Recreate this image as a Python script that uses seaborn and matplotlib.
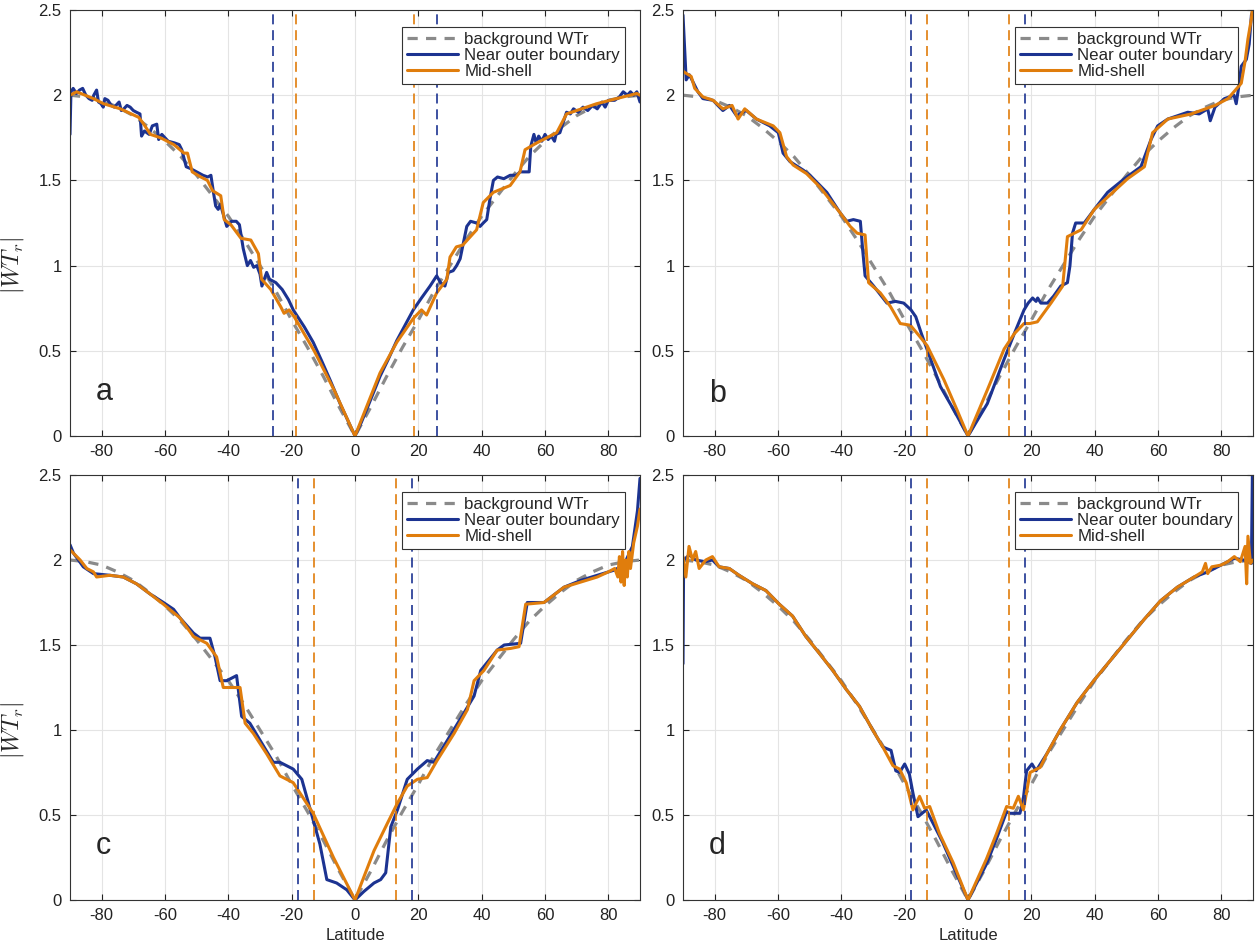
import matplotlib
matplotlib.use("Agg")
import matplotlib.pyplot as plt
import seaborn as sns

# --------------------------------------------------
# Data
# --------------------------------------------------
bg_lat = [-90, -85, -80, -75, -70, -65, -60, -55, -50, -45, -40, -35, -30, -25, -20, -15, -10, -5, 0,
          5, 10, 15, 20, 25, 30, 35, 40, 45, 50, 55, 60, 65, 70, 75, 80, 85, 90]
bg_val = [2.0, 1.99, 1.97, 1.93, 1.88, 1.81, 1.73, 1.64, 1.53, 1.41, 1.29, 1.15, 1.0, 0.85, 0.68, 0.52, 0.35, 0.17, 0.0,
          0.17, 0.35, 0.52, 0.68, 0.85, 1.0, 1.15, 1.29, 1.41, 1.53, 1.64, 1.73, 1.81, 1.88, 1.93, 1.97, 1.99, 2.0]

# panel a
a_blue_lat = [-90, -89.7, -89, -88, -87, -86, -85, -84, -83, -82.5, -81.6, -81, -80.2, -79.5, -79, -78, -77, -76,
              -75, -74.5, -73.8, -73, -72, -71, -70, -69, -67.9, -67.4,
              -66.5, -65, -64, -62.6, -62, -61, -59, -57, -55.5, -54.7, -53.3, -52, -50, -48, -46.5, -45.5,
              -44.7, -44, -43.2, -42.5, -40.5, -39, -37.5, -36.5, -35.3, -34, -33, -32, -31, -30, -29.4,
              -27.9, -27, -25, -23, -21, -19.5, -16, -13.2, -10.5, -7.9, -4.7, -2, 0,
              2, 4, 7.9, 10.5, 13.2, 15.8, 18.4, 21, 23.7, 25.8, 27, 28.4, 29.5, 31, 32.1, 33.2, 34.2,
              35.3, 36.5, 38.4, 39.5, 40.5, 41.6, 42.6, 43.7, 45, 47, 49, 51, 52.1, 53.7, 55, 55.5, 56.5,
              57.2, 58, 59, 60, 61, 62, 63, 63.5, 64.7, 66.8, 68, 69, 70.5, 72, 73.5, 75, 76.5, 78, 79,
              80, 82, 83.5, 84.7, 86, 87, 88, 89, 90]
a_blue_val = [1.77, 2.02, 2.04, 2.01, 2.03, 2.04, 2.0, 1.98, 1.97, 2.0, 2.03, 1.96, 1.95, 1.93, 1.98, 1.97, 1.94, 1.93,
              1.95, 1.96, 1.91, 1.92, 1.94, 1.93, 1.91, 1.90, 1.89, 1.76,
              1.79, 1.77, 1.82, 1.83, 1.74, 1.77, 1.73, 1.72, 1.71, 1.68, 1.58, 1.57, 1.55, 1.53, 1.52, 1.53,
              1.43, 1.35, 1.33, 1.36, 1.23, 1.26, 1.26, 1.24, 1.10, 1.00, 1.03, 0.99, 1.00, 0.95, 0.88,
              0.96, 0.92, 0.90, 0.86, 0.80, 0.74, 0.64, 0.55, 0.44, 0.33, 0.19, 0.08, 0.0,
              0.08, 0.17, 0.35, 0.45, 0.56, 0.65, 0.74, 0.81, 0.88, 0.94, 0.90, 0.88, 0.96, 0.97, 1.00, 1.04, 1.13,
              1.23, 1.26, 1.25, 1.23, 1.25, 1.27, 1.39, 1.50, 1.52, 1.51, 1.53, 1.53, 1.55, 1.55, 1.55, 1.70, 1.77,
              1.72, 1.76, 1.73, 1.77, 1.74, 1.76, 1.73, 1.77, 1.78, 1.90, 1.89, 1.92, 1.90, 1.93, 1.91, 1.94, 1.92,
              1.96, 1.93, 1.97, 1.97, 1.99, 2.02, 2.0, 2.02, 2.0, 2.02, 1.96]
a_orng_lat = [-90, -87.9, -82.6, -79.4, -74.1, -68.3, -66.7, -64.6, -61.4, -57.2, -54.0, -52.9, -51.4, -48.7,
              -46.6, -45, -42.4, -41.3, -39.2, -36.0, -32.9, -30.5, -29.5, -26.6, -23.5, -22.4, -20.8, -19.2,
              -12.9, -6.6, 0,
              7.9, 13.2, 18.4, 21, 22.6, 25.8, 29, 30, 32, 34, 38.4, 40.5, 43.7, 49, 52.1, 53.7, 57.4, 63.7,
              66.8, 76.3, 84.7, 89, 90]
a_orng_val = [2.0, 2.02, 1.98, 1.95, 1.92, 1.87, 1.83, 1.77, 1.75, 1.71, 1.66, 1.66, 1.55, 1.52,
              1.50, 1.44, 1.41, 1.27, 1.24, 1.16, 1.15, 1.07, 0.92, 0.86, 0.76, 0.72, 0.74, 0.70,
              0.50, 0.27, 0.0,
              0.37, 0.55, 0.69, 0.74, 0.71, 0.84, 0.92, 1.05, 1.11, 1.12, 1.21, 1.37, 1.43, 1.47, 1.55, 1.68, 1.72, 1.78,
              1.89, 1.95, 1.99, 2.01, 2.0]

# panel b
b_blue_lat = [-90, -89, -88, -86.9, -85.3, -83.7, -80.5, -79, -77.4, -75.3, -73.1, -70, -66.8, -62.6, -59.9,
              -58.4, -56.2, -52, -49.9, -44.6, -40.4, -38.3, -36.2, -34, -33.2, -32.5, -29.8, -25.6, -22.9,
              -20.3, -18, -16.5, -14.7, -8.7, -4.4, 0,
              6.1, 11.4, 14.6, 17.7, 19, 20.4, 21.5, 22, 23, 25.1, 27, 29.3, 31.4, 32.2, 33, 34, 36.7, 39.9,
              44.1, 49.4, 54.6, 57.8, 59.9, 63.1, 69.4, 73, 75.7, 76.5, 78, 81, 84, 84.7, 85.5, 86.3, 87.9,
              88.8, 89.5, 90]
b_blue_val = [2.47, 2.09, 2.12, 2.08, 2.02, 1.98, 1.97, 1.94, 1.91, 1.94, 1.88, 1.91, 1.86, 1.82, 1.78,
              1.66, 1.61, 1.56, 1.53, 1.43, 1.31, 1.26, 1.27, 1.26, 1.08, 0.94, 0.88, 0.78, 0.79,
              0.78, 0.74, 0.70, 0.60, 0.29, 0.15, 0.0,
              0.19, 0.45, 0.60, 0.74, 0.78, 0.81, 0.79, 0.81, 0.78, 0.78, 0.82, 0.88, 0.90, 1.0, 1.19, 1.25, 1.25, 1.33,
              1.43, 1.51, 1.58, 1.74, 1.82, 1.86, 1.90, 1.89, 1.92, 1.85, 1.93, 1.98, 2.0, 1.95, 2.05, 2.17, 2.21,
              2.3, 2.47, 2.5]
b_orng_lat = [-90, -87.4, -86.3, -83.7, -80.5, -77.4, -74.5, -72.6, -70.5, -66.8, -61.5, -59.4, -57.3, -55.2,
              -51, -46.7, -40.4, -37.2, -35, -32.5, -31.4, -27.7, -24.5, -21.4, -18.2, -15.5, -12.9, -7.6,
              -3.4, 0,
              6.1, 11.4, 14.6, 17.7, 19.5, 21.9, 26.2, 29.9, 31.4, 35.7, 39.9, 50.4, 55.7, 58.3, 63.1, 70.5,
              78, 82.1, 86.3, 87.5, 88.4, 89.5, 90]
b_orng_val = [2.14, 2.11, 2.04, 1.99, 1.97, 1.92, 1.94, 1.86, 1.92, 1.86, 1.82, 1.78, 1.64, 1.59,
              1.54, 1.46, 1.31, 1.23, 1.19, 1.18, 0.90, 0.84, 0.76, 0.66, 0.65, 0.59, 0.53, 0.33,
              0.15, 0.0,
              0.27, 0.51, 0.60, 0.66, 0.66, 0.67, 0.78, 0.88, 1.17, 1.21, 1.33, 1.51, 1.58, 1.78, 1.86, 1.89,
              1.94, 1.98, 2.07, 2.2, 2.33, 2.45, 2.55]

# panel c
c_blue_lat = [-90, -88.9, -85.8, -82.6, -77.4, -73.2, -69, -64.7, -60.5, -57.3, -55.3, -51, -48.9, -45.8,
              -44.2, -42.6, -40.5, -37.4, -35.8, -33.2, -30, -25.8, -23.7, -19.5, -16.8, -13.2, -11.1, -8.9,
              -5.8, -2.6, 0,
              2.8, 6, 8.1, 9.7, 11.3, 13.4, 16.5, 19.7, 22.8, 24.9, 29.2, 34.4, 37.6, 39.7, 44.9, 47.1, 52.3,
              54.4, 59.7, 66, 71.3, 76.5, 81.8, 84.9, 87.6, 89.2, 90]
c_blue_val = [2.09, 2.04, 1.96, 1.92, 1.91, 1.90, 1.86, 1.80, 1.75, 1.71, 1.66, 1.57, 1.54, 1.54,
              1.43, 1.29, 1.29, 1.32, 1.08, 1.04, 0.94, 0.81, 0.81, 0.77, 0.71, 0.47, 0.33, 0.12,
              0.10, 0.06, 0.0,
              0.05, 0.10, 0.12, 0.16, 0.43, 0.53, 0.71, 0.77, 0.82, 0.81, 0.94, 1.10, 1.20, 1.35, 1.47, 1.50, 1.51,
              1.75, 1.75, 1.84, 1.88, 1.91, 1.94, 1.97, 2.08, 2.29, 2.48]
c_orng_lat = [-90, -86.8, -84.7, -82.6, -81.6, -77.4, -73.2, -69, -64.7, -60.5, -55.3, -51, -46.8, -43.7,
              -41.6, -36.3, -34.7, -32.1, -27.9, -23.7, -19.5, -13.2, -6.8, 0,
              6, 10.2, 13.4, 16.5, 19.7, 22.8, 25.9, 31.3, 35.5, 37.6, 40.7, 44.9, 49.2, 51.8, 53.9, 59.7,
              66, 76.5, 80, 82, 83, 83.5, 84, 84.5, 85, 85.5, 86, 86.5, 87, 88, 89.2, 90]
c_orng_val = [2.06, 2.0, 1.95, 1.93, 1.90, 1.91, 1.90, 1.86, 1.80, 1.74, 1.66, 1.55, 1.51, 1.43,
              1.25, 1.25, 1.04, 0.98, 0.86, 0.73, 0.69, 0.51, 0.25, 0.0,
              0.29, 0.45, 0.57, 0.67, 0.71, 0.72, 0.82, 0.98, 1.12, 1.29, 1.35, 1.47, 1.48, 1.49, 1.74, 1.75,
              1.84, 1.90, 1.93, 1.95, 1.90, 2.02, 1.87, 2.05, 1.85, 2.0, 1.9, 2.05, 1.95, 2.10, 2.2, 2.3]

# panel d
d_blue_lat = [-90, -89.8, -88, -86, -83, -80.7, -78.6, -75.4, -72.3, -68, -63.8, -59.6, -55.4, -51.2, -46.9,
              -42.7, -38.5, -34.3, -30.1, -26.9, -24.3, -22.8, -21.6, -20, -18.5, -17.4, -15.8, -13.2, -11,
              -8, -4.7, 0,
              5.8, 9, 12.2, 13.2, 16.4, 17.5, 18.5, 20.2, 21.5, 24.9, 29.1, 34.4, 39.7, 45, 50.3, 55.6, 60.8,
              66.1, 71.4, 75.7, 79.9, 84.1, 87, 89.5, 89.8]
d_blue_val = [1.39, 2.0, 2.03, 2.0, 1.99, 2.0, 1.96, 1.95, 1.91, 1.86, 1.82, 1.74, 1.67, 1.55, 1.45,
              1.35, 1.24, 1.14, 1.0, 0.90, 0.88, 0.76, 0.75, 0.80, 0.74, 0.63, 0.49, 0.53, 0.45,
              0.34, 0.20, 0.0,
              0.21, 0.36, 0.52, 0.51, 0.51, 0.60, 0.76, 0.80, 0.76, 0.86, 1.0, 1.16, 1.29, 1.41, 1.53, 1.65, 1.76,
              1.84, 1.90, 1.93, 1.97, 2.01, 2.0, 1.98, 2.5]
d_orng_lat = [-90, -89.1, -88.1, -87, -86, -84.9, -82.8, -80.7, -78.6, -75.4, -72.3, -68, -63.8, -59.6, -55.4,
              -51.2, -46.9, -42.7, -38.5, -34.3, -30.1, -26.9, -23.7, -21.6, -19.5, -17.4, -15.3, -13.7, -12.1,
              -9, -4.7, 0,
              5.8, 9, 12.2, 14.3, 15.9, 17.5, 19.6, 22.8, 24.9, 29.1, 34.4, 39.7, 45, 50.3, 55.6, 60.8, 66.1,
              71.4, 74, 75, 75.7, 77, 79.9, 82, 84.1, 86, 87.5, 88, 88.4, 89.2, 90]
d_orng_val = [2.02, 1.90, 2.08, 2.0, 2.05, 1.95, 2.0, 2.02, 1.96, 1.95, 1.91, 1.86, 1.82, 1.74, 1.67,
              1.55, 1.45, 1.35, 1.24, 1.14, 1.0, 0.90, 0.79, 0.77, 0.69, 0.53, 0.61, 0.54, 0.55,
              0.39, 0.22, 0.0,
              0.24, 0.39, 0.55, 0.54, 0.61, 0.53, 0.75, 0.78, 0.86, 1.0, 1.16, 1.29, 1.41, 1.53, 1.65, 1.76, 1.84,
              1.90, 1.93, 1.98, 1.92, 1.96, 1.97, 1.99, 2.02, 1.99, 2.08, 1.86, 2.14, 1.98, 2.0]

# dashed latitude markers (symmetric about the equator)
vline_blue = [25.8, 18, 18, 18]
vline_orng = [18.7, 13, 13, 13]

panels = ["a", "b", "c", "d"]
blue_lat = [a_blue_lat, b_blue_lat, c_blue_lat, d_blue_lat]
blue_val = [a_blue_val, b_blue_val, c_blue_val, d_blue_val]
orng_lat = [a_orng_lat, b_orng_lat, c_orng_lat, d_orng_lat]
orng_val = [a_orng_val, b_orng_val, c_orng_val, d_orng_val]

BLUE = "#1c3391"
ORANGE = "#e07d0c"
GRAY = "#8a8a8a"

# --------------------------------------------------
# Style
# --------------------------------------------------
sns.set_style("ticks")
plt.rcParams["font.family"] = ["Liberation Sans", "DejaVu Sans"]
plt.rcParams["mathtext.fontset"] = "cm"
plt.rcParams["axes.unicode_minus"] = False

fig = plt.figure(figsize=(12.58, 9.49), dpi=100)
W, H = 1258, 949
boxes = [(70, 436, 10), (683, 436, 10), (70, 900, 475), (683, 900, 475)]
label_y = [0.085, 0.08, 0.108, 0.108]

for i, name in enumerate(panels):
    x0, ybot, ytop = boxes[i]
    ax = fig.add_axes([x0 / W, (H - ybot) / H, 570 / W, (ybot - ytop) / H])

    sns.lineplot(x=bg_lat, y=bg_val, ax=ax, color=GRAY, lw=2.3, ls=(0, (3.2, 2.6)),
                 estimator=None, sort=False, label="background WTr")
    sns.lineplot(x=blue_lat[i], y=blue_val[i], ax=ax, color=BLUE, lw=2.2,
                 estimator=None, sort=False, label="Near outer boundary")
    sns.lineplot(x=orng_lat[i], y=orng_val[i], ax=ax, color=ORANGE, lw=2.2,
                 estimator=None, sort=False, label="Mid-shell")

    for s in (-1, 1):
        ax.axvline(s * vline_blue[i], color=BLUE, lw=1.2, ls=(0, (6, 3.5)))
        ax.axvline(s * vline_orng[i], color=ORANGE, lw=1.2, ls=(0, (6, 3.5)))

    ax.set_xlim(-90, 90)
    ax.set_ylim(0, 2.5)
    ax.set_xticks([-80, -60, -40, -20, 0, 20, 40, 60, 80])
    ax.set_yticks([0, 0.5, 1, 1.5, 2, 2.5])
    ax.set_yticklabels(["0", "0.5", "1", "1.5", "2", "2.5"])
    ax.grid(True, color="#e4e4e4", lw=0.8)
    ax.set_axisbelow(True)
    ax.tick_params(direction="in", length=4, width=0.8, top=True, right=True,
                   labelsize=12, colors="#222222", pad=6)
    for sp in ax.spines.values():
        sp.set_visible(True)
        sp.set_color("#333333")
        sp.set_linewidth(0.8)

    ax.set_xlabel("Latitude" if i >= 2 else "", fontsize=12, labelpad=3)
    if i % 2 == 0:
        ax.set_ylabel(r"$|WT_r|$", fontsize=17)
        ax.yaxis.set_label_coords(-0.078, 0.40)
    else:
        ax.set_ylabel("")

    ax.text(0.046, label_y[i], name, transform=ax.transAxes, fontsize=22,
            ha="left", va="baseline")

    leg = ax.legend(loc="upper right", bbox_to_anchor=(1 - 15 / 570, 1 - 17 / 426),
                    borderaxespad=0, fontsize=12.2, frameon=True, fancybox=False,
                    framealpha=1, edgecolor="#333333", labelspacing=0.05,
                    borderpad=0.3, handlelength=3.0, handletextpad=0.35)
    leg.get_frame().set_linewidth(0.8)

plt.savefig("out.png", dpi=100)
plt.close()
